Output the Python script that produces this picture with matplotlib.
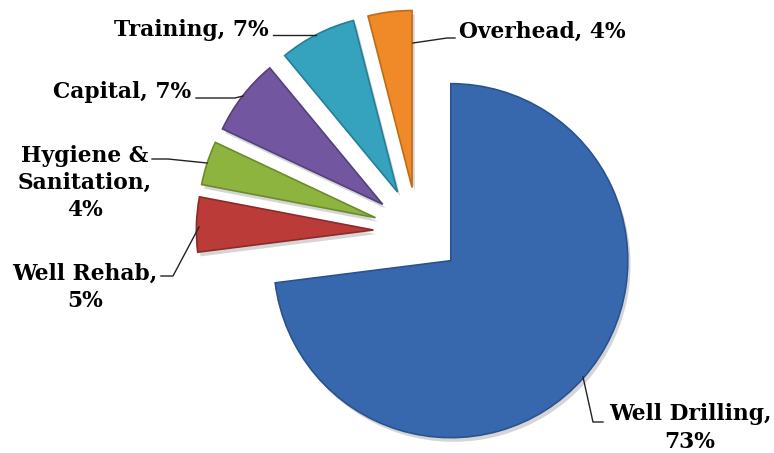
import matplotlib
matplotlib.use("Agg")
import matplotlib.pyplot as plt
import matplotlib.patheffects as pe

# budget split
names = ["Well Drilling", "Well Rehab", "Hygiene &\nSanitation", "Capital", "Training", "Overhead"]
values = [73, 5, 4, 7, 7, 4]
colors = ["#3768ae", "#bb3b38", "#8db43f", "#7356a0", "#35a2be", "#f08a28"]
edges = ["#2a5290", "#8e2a28", "#6b8c2c", "#54407a", "#267f96", "#c06a18"]

# label layout (pixel positions in the 774x453 image)
seps = ["\n", "\n", "\n", " ", " ", " "]
label_pos = [(690, 428, "center"), (85, 287, "center"), (85, 183, "center"),
             (191, 92, "right"), (269, 30, "right"), (459, 32, "left")]
leaders = [
    [(583, 377), (593, 422), (603, 422)],
    [(161, 276), (173, 276), (199, 227)],
    [(152, 159), (168, 159), (207, 163)],
    [(196, 98), (235, 98), (243, 96)],
    [(273, 35), (316, 35)],
    [(455, 38), (447, 38), (413, 43)],
]

W, H = 774, 453
CX, CY, R = 417.6, 231.4, 177.0


def px(x, y):
    return (x - CX) / R, (CY - y) / R


fig = plt.figure(figsize=(W / 100, H / 100), dpi=100)
ax = fig.add_axes([0, 0, 1, 1])

wedges, _ = ax.pie(values, startangle=90, counterclock=False, radius=1,
                   explode=[0.25] * len(values), colors=colors)
for w, ec in zip(wedges, edges):
    w.set_edgecolor(ec)
    w.set_linewidth(1.2)
    w.set_path_effects([pe.SimplePatchShadow(offset=(2, -3), shadow_rgbFace="#888888", alpha=0.35),
                        pe.Normal()])

for name, v, sep, (x, y, ha), pts in zip(names, values, seps, label_pos, leaders):
    txt = name + "," + sep + "{}%".format(v)
    tx, ty = px(x, y)
    ax.text(tx, ty, txt, ha=ha, va="center", multialignment="center",
            fontsize=15.7, fontweight="bold", family="DejaVu Serif",
            color="black", linespacing=1.3)
    xs = [px(a, b)[0] for a, b in pts]
    ys = [px(a, b)[1] for a, b in pts]
    ax.plot(xs, ys, color="#222222", lw=1)

ax.set_xlim(-CX / R, (W - CX) / R)
ax.set_ylim(-(H - CY) / R, CY / R)
ax.set_aspect("auto")
ax.axis("off")

fig.savefig("out.png", dpi=100, facecolor="white")
